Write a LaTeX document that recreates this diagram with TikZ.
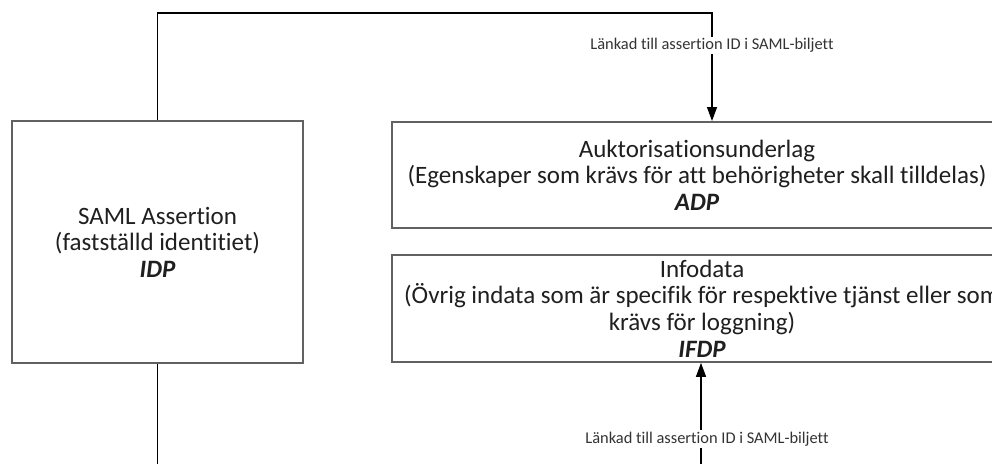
\documentclass[tikz,border=0pt]{standalone}
\usepackage{fontspec}
\setmainfont{Carlito}[Ligatures={NoCommon}]
\usetikzlibrary{arrows.meta,calc}
\begin{document}
\begin{tikzpicture}[x=1pt,y=-1pt,
  box/.style={draw=black!62, line width=1.7pt, rectangle, inner sep=0pt, align=center,
    font=\fontsize{25}{26.6}\selectfont, text=black!88},
  conn/.style={draw=black, line width=1.3pt},
  arr/.style={conn, -{Triangle[width=10pt,length=14pt]}},
  lbl/.style={fill=white, inner sep=1.5pt, font=\fontsize{16.4}{18}\selectfont, text=black!80}]
\useasboundingbox (0,0) rectangle (992,463);
\clip (0,0) rectangle (992,463);
\fill[white] (0,0) rectangle (992,463);
\node[box, minimum width=291pt, minimum height=242pt] (idp) at (157.5,242)
  {SAML Assertion\\(fastställd identitiet)\\\textbf{\textit{IDP}}};
\node[box, minimum width=610pt, minimum height=106pt] (adp) at (697,175)
  {Auktorisationsunderlag\\(Egenskaper som krävs för att behörigheter skall tilldelas)\\\textbf{\textit{ADP}}};
\node[box, minimum width=620pt, minimum height=107pt] (ifdp) at (702,308.5)
  {Infodata\\(Övrig indata som är specifik för respektive tjänst eller som\\krävs för loggning)\\\textbf{\textit{IFDP}}};
\coordinate (top) at (712,13);
\coordinate (a1) at (712,121);
\draw[arr] (idp.north) |- (top) -- node[lbl, pos=0.3] {Länkad till assertion ID i SAML-biljett} (a1);
\coordinate (b1) at (157.5,470);
\draw[conn] (idp.south) -- (b1);
\coordinate (b2) at (701,470);
\draw[arr] (b2) -- node[lbl, pos=0.29, xshift=6pt] {Länkad till assertion ID i SAML-biljett} (b2 |- ifdp.south);
\end{tikzpicture}
\end{document}
